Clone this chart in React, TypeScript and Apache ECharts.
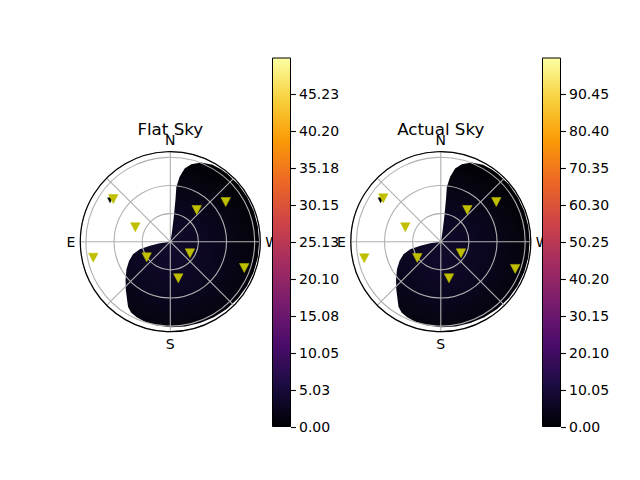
import { useEffect, useRef } from "react";
import * as echarts from "echarts";

// ---- data ----
const compassAngles = [0, 90, 180, 270];
const compassLabels = ["N", "E", "S", "W"];
const radialMax = 1.6;

// boundary of the sky-brightness region (azimuth in degrees, zenith radius)
const regionAz = [0, 350, 352, 353, 353.7, 351.8, 348.9, 344.9, 338.7, 331.3, 325, 320, 310, 300, 290, 280, 270, 260, 250, 240, 230, 220, 210, 200, 190, 180, 170, 162, 156, 151, 147, 143.5, 137, 130.1, 122.1, 115, 108.6, 103.8, 101.5, 98];
const regionR = [0, 0.15, 0.45, 0.75, 0.985, 1.166, 1.326, 1.427, 1.51, 1.56, 1.57, 1.575, 1.58, 1.58, 1.58, 1.58, 1.58, 1.58, 1.578, 1.575, 1.57, 1.56, 1.55, 1.54, 1.53, 1.52, 1.51, 1.49, 1.47, 1.44, 1.38, 1.29, 1.16, 1.04, 0.92, 0.81, 0.7, 0.56, 0.37, 0.19];

const flatStarAz = [53.2, 67.6, 101.7, 320.2, 305.6, 123.5, 239.5, 192.3, 250.4];
const flatStarR = [1.266, 0.673, 1.398, 0.733, 1.212, 0.503, 0.406, 0.666, 1.396];
const actualStarAz = [53.0, 67.9, 102.2, 320.1, 305.6, 124.7, 240.1, 192.6, 249.9];
const actualStarR = [1.281, 0.681, 1.392, 0.734, 1.213, 0.508, 0.414, 0.667, 1.408];
const hiddenStarAz = [55.5];
const hiddenStarR = [1.3];

const flatMax = 50.25;
const flatTicks = [0, 5.0253, 10.0506, 15.0759, 20.1012, 25.1265, 30.1518, 35.1771, 40.2024, 45.2277];
const actualMax = 100.5;
const actualTicks = [0, 10.05, 20.1, 30.15, 40.2, 50.25, 60.3, 70.35, 80.4, 90.45];

const titles = ["Flat Sky", "Actual Sky"];
const inferno = ["#000004", "#1b0c41", "#4a0c6b", "#781c6d", "#a52c60", "#cf4446", "#ed6925", "#fb9b06", "#f7d13d", "#fcffa4"];

const FONT = "DejaVu Sans";

const polarCenters = [
  [170.3, 241.7],
  [440.8, 241.7],
];
const polarRadius = 90;
const barLefts = [272, 542];

function regionSeries(polarIndex: number) {
  return {
    type: "custom",
    coordinateSystem: "polar",
    polarIndex,
    z: -1,
    silent: true,
    data: regionR.map((r, i) => [r, regionAz[i]]),
    renderItem: (params: any, api: any) => {
      if (params.dataIndex !== 0) return null;
      const pts = regionR.map((r, i) => api.coord([r, regionAz[i]]));
      const c = api.coord([0, 0]);
      return {
        type: "polygon",
        shape: { points: pts },
        style: {
          fill: new echarts.graphic.RadialGradient(
            c[0] + 2,
            c[1] + 12,
            92,
            [
              { offset: 0, color: "#120a2c" },
              { offset: 0.45, color: "#0b0620" },
              { offset: 0.8, color: "#06040f" },
              { offset: 1, color: "#020106" },
            ],
            true
          ),
          stroke: null,
        },
      };
    },
  };
}

function starSeries(polarIndex: number, az: number[], r: number[], color: string, size: number[], z: number) {
  return {
    type: "scatter",
    coordinateSystem: "polar",
    polarIndex,
    z,
    silent: true,
    symbol: "path://M0,0L2,0L1,2Z",
    symbolSize: size,
    itemStyle: { color, borderColor: color, borderWidth: 0.5, opacity: 1 },
    data: r.map((v, i) => [v, az[i]]),
  };
}

function barSeries(idx: number, max: number) {
  return {
    type: "bar",
    xAxisIndex: idx,
    yAxisIndex: idx,
    barWidth: "100%",
    silent: true,
    data: [max],
    itemStyle: {
      color: new echarts.graphic.LinearGradient(
        0,
        1,
        0,
        0,
        inferno.map((c, i) => ({ offset: i / (inferno.length - 1), color: c }))
      ),
      borderColor: "#000",
      borderWidth: 1,
    },
  };
}

export default function App() {
  const ref = useRef<HTMLDivElement>(null);
  useEffect(() => {
    if (!ref.current) return;
    const chart = echarts.init(ref.current, undefined, { renderer: "svg" });
    const maxes = [flatMax, actualMax];
    const ticks = [flatTicks, actualTicks];
    chart.setOption({
      animation: false,
      backgroundColor: "#fff",
      textStyle: { fontFamily: FONT },
      polar: polarCenters.map((c) => ({ center: c, radius: [0, polarRadius] })),
      angleAxis: [0, 1].map((i) => ({
        polarIndex: i,
        type: "value",
        min: 0,
        max: 360,
        interval: 45,
        startAngle: 90,
        clockwise: false,
        axisLine: { show: true, lineStyle: { color: "#000", width: 1.2 } },
        axisTick: { show: false },
        axisLabel: {
          show: true,
          margin: 5,
          color: "#000",
          fontSize: 14,
          fontFamily: FONT,
          formatter: (v: number) => {
            const k = compassAngles.indexOf(v);
            return k >= 0 ? compassLabels[k] : "";
          },
        },
        splitLine: { show: true, lineStyle: { color: "#b0b0b0", width: 1.1 } },
      })),
      radiusAxis: [0, 1].map((i) => ({
        polarIndex: i,
        type: "value",
        min: 0,
        max: radialMax,
        interval: 0.5,
        axisLine: { show: false },
        axisTick: { show: false },
        axisLabel: { show: false },
        splitLine: { show: true, lineStyle: { color: "#b0b0b0", width: 1.1 } },
      })),
      grid: barLefts.map((l) => ({ left: l, top: 57.5, width: 19, height: 369.5 })),
      xAxis: [0, 1].map((i) => ({ gridIndex: i, type: "category", data: [""], show: false })),
      yAxis: [0, 1].map((i) => ({
        gridIndex: i,
        type: "value",
        min: 0,
        max: maxes[i],
        position: "right",
        axisLine: { show: false },
        splitLine: { show: false },
        axisTick: {
          show: true,
          length: 4.9,
          customValues: ticks[i],
          lineStyle: { color: "#000", width: 1.1 },
        },
        axisLabel: {
          show: true,
          customValues: ticks[i],
          margin: 8,
          color: "#000",
          fontSize: 14,
          fontFamily: FONT,
          formatter: (v: number) => v.toFixed(2),
        },
      })),
      graphic: titles.map((t, i) => ({
        type: "text",
        x: polarCenters[i][0],
        y: 129,
        style: {
          text: t,
          align: "center",
          verticalAlign: "middle",
          fontSize: 16.7,
          fontFamily: FONT,
          fill: "#000",
        },
      })),
      series: [
        regionSeries(0),
        regionSeries(1),
        starSeries(0, hiddenStarAz, hiddenStarR, "#000", [5, 5], 3),
        starSeries(1, hiddenStarAz, hiddenStarR, "#000", [5, 5], 3),
        starSeries(0, flatStarAz, flatStarR, "#bfbf00", [9.5, 9], 4),
        starSeries(1, actualStarAz, actualStarR, "#bfbf00", [9.5, 9], 4),
        barSeries(0, flatMax),
        barSeries(1, actualMax),
      ],
    });
    return () => chart.dispose();
  }, []);
  return (
    <div
      ref={ref}
      style={{ position: "fixed", left: 0, top: 0, width: 640, height: 480, background: "#fff" }}
    />
  );
}
